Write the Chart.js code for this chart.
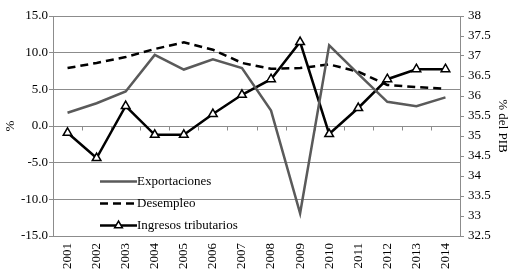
<!DOCTYPE html>
<html><head><meta charset="utf-8">
<script src="https://cdn.jsdelivr.net/npm/chart.js@4"></script>
<style>html,body{margin:0;padding:0;background:#fff}#w{width:511px;height:276px;position:relative}</style>
</head><body><div id="w"><canvas id="c"></canvas></div>
<script>
const categories = ["2001","2002","2003","2004","2005","2006","2007","2008","2009","2010","2011","2012","2013","2014"];
const exportaciones = [1.8, 3.1, 4.7, 9.7, 7.7, 9.1, 7.9, 2.1, -11.9, 11.0, 7.1, 3.3, 2.7, 3.9];
const desempleo = [7.9, 8.6, 9.4, 10.5, 11.4, 10.4, 8.6, 7.8, 7.9, 8.4, 7.4, 5.6, 5.3, 5.1];
const ingresos = [35.08, 34.45, 35.75, 35.03, 35.03, 35.55, 36.03, 36.42, 37.35, 35.05, 35.7, 36.42, 36.67, 36.67];
const seriesNames = ["Exportaciones", "Desempleo", "Ingresos tributarios"];
const leftTitle = "%";
const rightTitle = "% del PIB";

const FONT = "'Liberation Serif','Times New Roman',serif";
const AXIS = "#8c8c8c";

const zeroAxisPlugin = {
  id: 'zeroAxis',
  beforeDatasetsDraw(chart) {
    const x = chart.scales.x, y = chart.scales.y, ctx = chart.ctx;
    const y0 = Math.round(y.getPixelForValue(0)) + 0.5;
    ctx.save();
    ctx.strokeStyle = AXIS; ctx.lineWidth = 1;
    ctx.beginPath();
    ctx.moveTo(chart.chartArea.left, y0); ctx.lineTo(chart.chartArea.right, y0);
    const n = categories.length;
    for (let i = 0; i <= n; i++) {
      const px = Math.round(x.getPixelForValue(i - 0.5)) + 0.5;
      ctx.moveTo(px, y0); ctx.lineTo(px, y0 + 4);
    }
    ctx.stroke();
    ctx.restore();
  }
};

const legendPlugin = {
  id: 'inLegend',
  afterDraw(chart) {
    const ctx = chart.ctx;
    const x0 = 100, x1 = 137;
    const rows = [181.5, 203.5, 225.5];
    ctx.save();
    ctx.font = "13px " + FONT;
    ctx.textBaseline = 'middle';
    chart.data.datasets.forEach((ds, i) => {
      const yy = rows[i];
      ctx.strokeStyle = ds.borderColor;
      ctx.lineWidth = ds.borderWidth;
      ctx.setLineDash(ds.borderDash || []);
      ctx.beginPath(); ctx.moveTo(x0, yy); ctx.lineTo(x1, yy); ctx.stroke();
      ctx.setLineDash([]);
      if (ds.pointStyle === 'triangle' && ds.pointRadius > 0) {
        ctx.fillStyle = ds.pointBackgroundColor; ctx.strokeStyle = ds.pointBorderColor; ctx.lineWidth = ds.pointBorderWidth;
        ctx.beginPath();
        const r = ds.pointRadius - 0.5, cx = (x0 + x1) / 2;
        const side = r * Math.sqrt(3);
        ctx.moveTo(cx, yy - r);
        ctx.lineTo(cx - side / 2, yy + r / 2);
        ctx.lineTo(cx + side / 2, yy + r / 2);
        ctx.closePath(); ctx.fill(); ctx.stroke();
      }
      ctx.fillStyle = '#000';
      ctx.fillText(ds.label, x1, yy);
    });
    ctx.restore();
  }
};

new Chart(document.getElementById('c'), {
  type: 'line',
  data: {
    labels: categories,
    datasets: [
      { label: seriesNames[0], data: exportaciones, yAxisID: 'y', borderColor: '#5a5a5a', borderWidth: 2.5, pointRadius: 0, tension: 0 },
      { label: seriesNames[1], data: desempleo, yAxisID: 'y', borderColor: '#000', borderWidth: 2.5, borderDash: [8, 5], pointRadius: 0, tension: 0 },
      { label: seriesNames[2], data: ingresos, yAxisID: 'y1', borderColor: '#000', borderWidth: 2.5, pointStyle: 'triangle', pointRadius: 5, pointBackgroundColor: '#fff', pointBorderColor: '#000', pointBorderWidth: 1.5, tension: 0 }
    ]
  },
  options: {
    responsive: true, maintainAspectRatio: false, animation: false,
    layout: { padding: { top: 16, left: 0, right: 0, bottom: 0 } },
    plugins: { legend: { display: false }, tooltip: { enabled: false } },
    scales: {
      x: {
        type: 'category', offset: true,
        grid: { display: false, drawTicks: false },
        border: { display: false },
        ticks: { color: '#000', font: { family: FONT, size: 13 }, minRotation: 90, maxRotation: 90, padding: 7, autoSkip: false },
        afterFit(s) { s.height = 40; }
      },
      y: {
        position: 'left', min: -15, max: 15,
        ticks: { stepSize: 5, color: '#000', font: { family: FONT, size: 13 }, padding: 1, callback: v => Number(v).toFixed(1) },
        grid: { color: AXIS, lineWidth: 1, tickLength: 4, drawTicks: true },
        border: { display: true, color: AXIS },
        title: { display: true, text: leftTitle, color: '#000', font: { family: FONT, size: 13 }, padding: { top: 3, bottom: 0 } },
        afterFit(s) { s.width = 53; }
      },
      y1: {
        position: 'right', min: 32.5, max: 38,
        ticks: { stepSize: 0.5, color: '#000', font: { family: FONT, size: 13 }, padding: 4, callback: v => String(v) },
        grid: { drawOnChartArea: false, color: AXIS, tickLength: 4 },
        border: { display: true, color: AXIS },
        title: { display: true, text: rightTitle, color: '#000', font: { family: FONT, size: 13 }, padding: { top: 1, bottom: 0 } },
        afterFit(s) { s.width = 51; }
      }
    }
  },
  plugins: [zeroAxisPlugin, legendPlugin]
});
</script>
</body></html>
